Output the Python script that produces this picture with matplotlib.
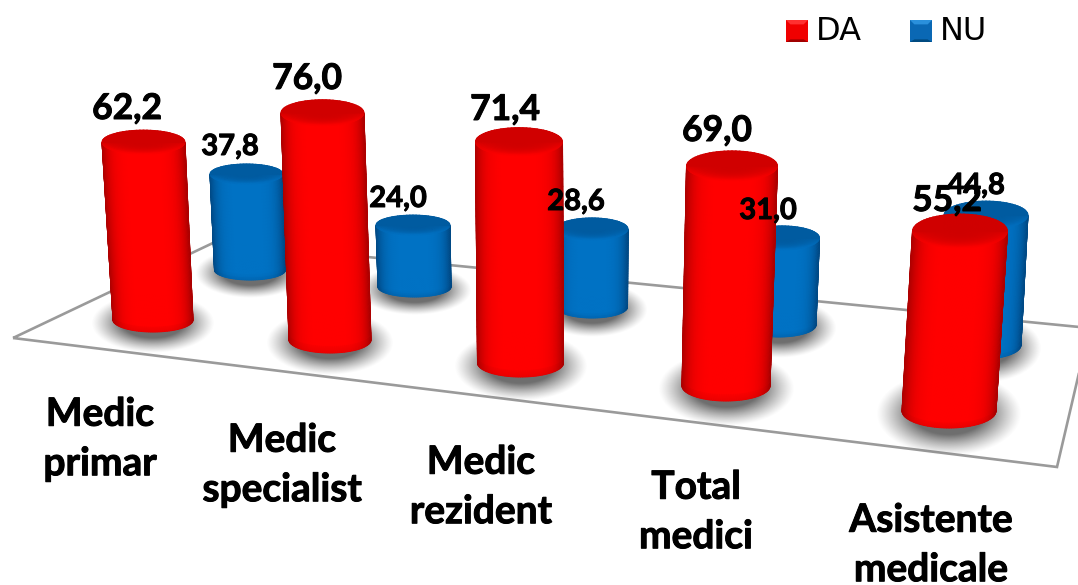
import numpy as np
import matplotlib
matplotlib.use('Agg')
import matplotlib.pyplot as plt
import matplotlib.patheffects as pe
from matplotlib.colors import LinearSegmentedColormap
from matplotlib.patches import Polygon

categories = ['Medic\nprimar', 'Medic\nspecialist', 'Medic\nrezident', 'Total\nmedici', 'Asistente\nmedicale']
da_values = [62.2, 76.0, 71.4, 69.0, 55.2]
nu_values = [37.8, 24.0, 28.6, 31.0, 44.8]
series_names = ['DA', 'NU']

# fake perspective, one entry per cylinder:
# base x, base y, base rx, top rx, ry, lean (px per unit), height (px per unit)
da_layout = [
    (153, 320, 40, 41.5, 12, -0.153, 2.86),
    (330, 340, 41, 41.5, 13, -0.099, 2.99),
    (520.5, 363, 43, 43.5, 14, -0.021, 3.10),
    (726, 386, 44, 45.5, 15, 0.087, 3.19),
    (949, 411, 47, 47.5, 17, 0.199, 3.26),
]
nu_layout = [
    (250, 270, 35.5, 36.5, 10, -0.093, 2.54),
    (414.5, 287, 36.5, 37, 10, -0.063, 2.58),
    (592, 307, 35.5, 36, 11, 0.0, 2.73),
    (779, 325, 37, 37.5, 12, 0.097, 2.81),
    (983, 345, 38, 42, 14, 0.067, 2.90),
]
da_label_pos = [(127, 109), (307, 79), (505, 110), (717, 131), (947, 201)]
nu_label_pos = [(230, 147), (398, 199), (576, 202), (768, 211), (976, 186)]
cat_pos = [(100, 439), (282, 465), (481, 487), (696, 512), (931, 545)]

red_map = LinearSegmentedColormap.from_list('red3d', ['#8a0000', '#ff0000'])
blue_map = LinearSegmentedColormap.from_list('blue3d', ['#00386a', '#0072c4'])

LABEL_FONT = 'Lato'
BOLDER = [pe.withStroke(linewidth=0.7, foreground='black')]


def draw_shadow(ax, x, y, rx, ry, z):
    sx, sy = rx * 1.55, ry * 2.5
    xs = np.linspace(-1, 1, 120)
    xx, yy = np.meshgrid(xs, xs)
    d = np.sqrt(xx ** 2 + yy ** 2)
    img = np.zeros((120, 120, 4))
    img[..., :3] = 0.33
    img[..., 3] = 0.85 * np.clip((1 - d) / 0.5, 0, 1) ** 1.2
    ax.imshow(img, extent=(x - sx, x + sx, y + 3 + sy, y + 3 - sy),
              aspect='auto', zorder=z, interpolation='bilinear')


def draw_cylinder(ax, value, layout, cmap, z):
    x0, y0, rx0, rx1, ry, lean, scale = layout
    x1 = x0 + lean * value
    y1 = y0 - scale * value

    # body, front half only
    theta = np.linspace(-np.pi / 2, np.pi / 2, 61)
    v = np.linspace(0, 1, 31)
    tt, vv = np.meshgrid(theta, v)
    rr = rx0 + (rx1 - rx0) * vv
    X = x0 + (x1 - x0) * vv + rr * np.sin(tt)
    Y = y0 + (y1 - y0) * vv + ry * np.cos(tt)
    s = np.sin(tt)
    C = 1 - 0.7 * np.abs(s) ** 5
    px = (y0 - y1) * vv
    C = C * (1 - 0.2 * np.clip(1 - px / 5, 0, 1))
    ax.pcolormesh(X, Y, C, cmap=cmap, vmin=0, vmax=1, shading='gouraud', zorder=z)

    # top cap
    r = np.linspace(0, 1, 16)
    phi = np.linspace(0, 2 * np.pi, 73)
    pp, rg = np.meshgrid(phi, r)
    X = x1 + rx1 * rg * np.cos(pp)
    Y = y1 + ry * rg * np.sin(pp)
    C = 0.6 + 0.4 * rg ** 3 * np.clip(np.sin(pp), 0, 1) ** 0.6
    ax.pcolormesh(X, Y, C, cmap=cmap, vmin=0, vmax=1, shading='gouraud', zorder=z + 0.1)


def draw_key(ax, x0, y0, size, light, mid, dark):
    b = size * 0.2
    x1, y1 = x0 + size, y0 + size
    ax.add_patch(Polygon([(x0, y0), (x1, y0), (x1, y1), (x0, y1)], color=mid, lw=0, zorder=20))
    ax.add_patch(Polygon([(x0, y0), (x1, y0), (x1 - b, y0 + b), (x0 + b, y0 + b)], color=light, lw=0, zorder=21))
    ax.add_patch(Polygon([(x0, y1), (x1, y1), (x1 - b, y1 - b * 0.6), (x0 + b, y1 - b * 0.6)], color=dark, lw=0, zorder=21))


def main():
    fig = plt.figure(figsize=(10.78, 5.85), dpi=100)
    ax = fig.add_axes([0, 0, 1, 1])

    # floor
    floor = [(13, 338), (215, 242), (1089.5, 328), (1057, 467)]
    ax.add_patch(Polygon(floor, closed=True, fill=False, edgecolor='#9a9a9a', lw=1.9, zorder=1))

    for val, lay in zip(nu_values, nu_layout):
        draw_shadow(ax, lay[0], lay[1], lay[2], lay[4], 2)
    for val, lay in zip(da_values, da_layout):
        draw_shadow(ax, lay[0], lay[1], lay[2], lay[4], 2)
    for val, lay in zip(nu_values, nu_layout):
        draw_cylinder(ax, val, lay, blue_map, 3)
    for val, lay in zip(da_values, da_layout):
        draw_cylinder(ax, val, lay, red_map, 5)

    for val, (x, y) in zip(da_values, da_label_pos):
        ax.text(x, y, f'{val:.1f}'.replace('.', ','), ha='center', va='center', fontsize=25.5,
                fontweight='bold', family=LABEL_FONT, color='black', zorder=30, path_effects=BOLDER)
    for val, (x, y) in zip(nu_values, nu_label_pos):
        ax.text(x, y, f'{val:.1f}'.replace('.', ','), ha='center', va='center', fontsize=21,
                fontweight='bold', family=LABEL_FONT, color='black', zorder=30, path_effects=BOLDER)
    for name, (x, y) in zip(categories, cat_pos):
        ax.text(x, y, name, ha='center', va='center', fontsize=28, fontweight='bold',
                family=LABEL_FONT, color='black', linespacing=1.5, zorder=30, path_effects=BOLDER)

    # legend
    draw_key(ax, 786, 20, 22, '#ff3030', '#f00000', '#a00000')
    draw_key(ax, 910, 20, 22, '#2a90dc', '#0a68b4', '#004a80')
    ax.text(816, 31, series_names[0], va='center', ha='left', fontsize=23, color='black')
    ax.text(940, 31, series_names[1], va='center', ha='left', fontsize=23, color='black')

    ax.set_xlim(0, 1078)
    ax.set_ylim(585, 0)
    ax.axis('off')
    fig.savefig('out.png', dpi=100)
    plt.close(fig)


if __name__ == '__main__':
    main()
